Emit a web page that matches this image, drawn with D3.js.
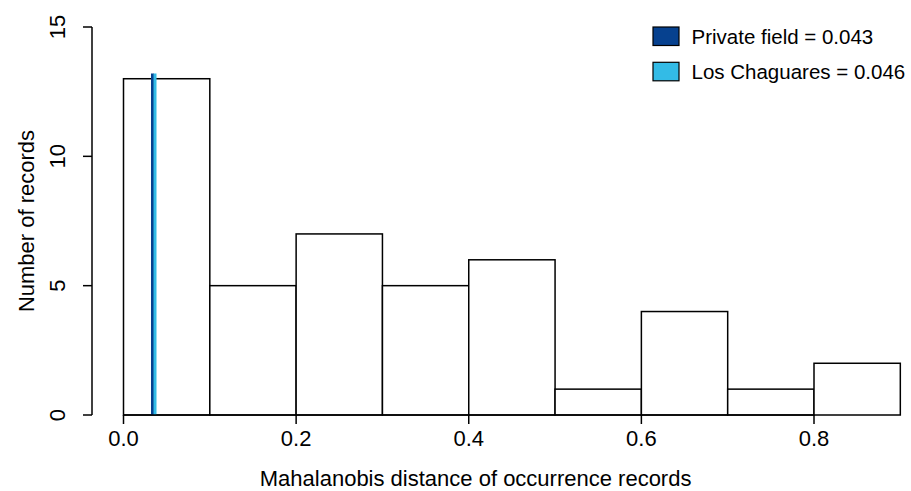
<!DOCTYPE html>
<html><head><meta charset="utf-8">
<script src="https://cdnjs.cloudflare.com/ajax/libs/d3/7.8.5/d3.min.js"></script>
<style>body{margin:0;background:#fff}svg{display:block}text{font-family:"Liberation Sans",Arial,sans-serif;fill:#000}</style>
</head><body>
<script>
const binEdges = [0.0,0.1,0.2,0.3,0.4,0.5,0.6,0.7,0.8,0.9];
const counts = [13,5,7,5,6,1,4,1,2];
const xTicks = [0.0,0.2,0.4,0.6,0.8];
const yTicks = [0,5,10,15];
const siteNames = ["Private field","Los Chaguares"];
const siteLabels = ["Private field = 0.043","Los Chaguares = 0.046"];
const siteLinePos = [0.0336,0.0365];
const siteLineTop = 13.2;
const siteColors = ["#06418f","#33bbe6"];

const W=911,H=491;
const FS=22, LFS=20.5;
const svg=d3.select("body").append("svg").attr("width",W).attr("height",H);
const x=d3.scaleLinear().domain([0,0.8]).range([123.5,814]);
const y=d3.scaleLinear().domain([0,15]).range([415,27]);

// bars
svg.append("g").selectAll("rect").data(counts).join("rect")
 .attr("x",(d,i)=>x(binEdges[i])).attr("y",d=>y(d))
 .attr("width",(d,i)=>x(binEdges[i+1])-x(binEdges[i])).attr("height",d=>y(0)-y(d))
 .attr("fill","#fff").attr("stroke","#000").attr("stroke-width",1.5);

// lines
svg.append("g").selectAll("line").data(siteLinePos).join("line")
 .attr("x1",d=>x(d)).attr("x2",d=>x(d)).attr("y1",y(0)).attr("y2",y(siteLineTop))
 .attr("stroke",(d,i)=>siteColors[i]).attr("stroke-width",3);

// x axis
const gx=svg.append("g").attr("transform",`translate(0,${y(0)})`);
gx.append("line").attr("x1",x(0)).attr("x2",x(0.8)).attr("stroke","#000").attr("stroke-width",1.5);
gx.selectAll(".t").data(xTicks).join("line").attr("x1",d=>x(d)).attr("x2",d=>x(d)).attr("y1",0).attr("y2",9).attr("stroke","#000").attr("stroke-width",1.5);
gx.selectAll("text").data(xTicks).join("text").attr("x",d=>x(d)).attr("y",31).attr("text-anchor","middle").attr("font-size",FS).text(d=>d.toFixed(1));
svg.append("text").attr("x",475.6).attr("y",486).attr("text-anchor","middle").attr("font-size",FS).text("Mahalanobis distance of occurrence records");

// y axis
const ax=92;
const gy=svg.append("g").attr("transform",`translate(${ax},0)`);
gy.append("line").attr("y1",y(0)).attr("y2",y(15)).attr("stroke","#000").attr("stroke-width",1.5);
gy.selectAll(".t").data(yTicks).join("line").attr("y1",d=>y(d)).attr("y2",d=>y(d)).attr("x1",0).attr("x2",-9).attr("stroke","#000").attr("stroke-width",1.5);
gy.selectAll("text").data(yTicks).join("text").attr("transform",d=>`translate(-27,${y(d)}) rotate(-90)`).attr("text-anchor","middle").attr("font-size",FS).text(d=>d);
svg.append("text").attr("transform",`translate(33.5,${y(7.5)}) rotate(-90)`).attr("text-anchor","middle").attr("font-size",FS).text("Number of records");

// legend
const lg=svg.append("g");
siteLabels.forEach((lab,i)=>{
  const yy=27+i*35.3;
  lg.append("rect").attr("x",653).attr("y",yy).attr("width",26).attr("height",18.5).attr("fill",siteColors[i]).attr("stroke","#000").attr("stroke-width",1.2);
  lg.append("text").attr("x",691.5).attr("y",yy+16.8).attr("font-size",LFS).text(lab);
});
</script>
</body></html>
